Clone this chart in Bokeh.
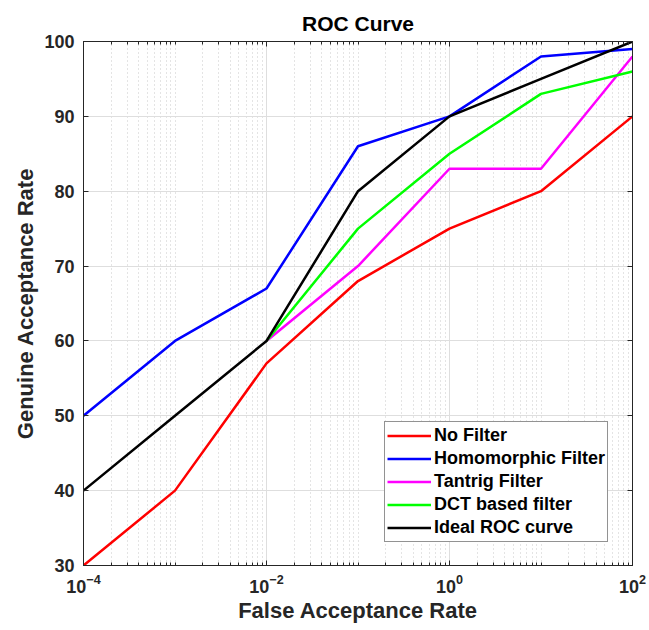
from bokeh.plotting import figure
from bokeh.models import FixedTicker, LogAxis, LinearAxis, CustomJSTickFormatter, Legend, LegendItem, Range1d
from bokeh.embed import file_html
from bokeh.resources import INLINE

far = [1e-4, 1e-3, 1e-2, 1e-1, 1e0, 1e1, 1e2]
no_filter = [30, 40, 57, 68, 75, 80, 90]
homomorphic = [50, 60, 67, 86, 90, 98, 99]
far_sub = [1e-2, 1e-1, 1e0, 1e1, 1e2]
tantrig = [60, 70, 83, 83, 98]
dct = [60, 75, 85, 93, 96]
ideal = [40, 50, 60, 80, 90, 95, 100]

x_ticks = [1e-4, 1e-2, 1e0, 1e2]
y_ticks = [30, 40, 50, 60, 70, 80, 90, 100]

minor = []
for e in range(-4, 2):
    for m in range(2, 10):
        minor.append(m * 10.0 ** e)
for e in [-3, -1, 1]:
    minor.append(10.0 ** e)
minor = sorted(minor)

FONT = "Liberation Sans"
TXT = "#262626"

p = figure(width=649, height=630, x_axis_type="log",
           x_range=Range1d(1e-4, 1e2), y_range=Range1d(30, 100),
           output_backend="svg", toolbar_location=None,
           min_border_left=83, min_border_right=17, min_border_top=41, min_border_bottom=65,
           title="ROC Curve")
p.title.align = "center"
p.title.text_font = FONT
p.title.text_font_size = "21px"
p.title.text_font_style = "bold"
p.title.text_color = "black"
p.title.offset = 0
p.title.standoff = 14

p.outline_line_color = TXT
p.outline_line_width = 1
p.background_fill_color = "white"
p.border_fill_color = "white"

xt = FixedTicker(ticks=x_ticks, minor_ticks=minor)
yt = FixedTicker(ticks=y_ticks, minor_ticks=[])

for ax in [p.xaxis[0], p.yaxis[0]]:
    ax.major_tick_in = 5
    ax.major_tick_out = 0
    ax.minor_tick_in = 3
    ax.minor_tick_out = 0
    ax.axis_line_color = TXT
    ax.major_tick_line_color = TXT
    ax.minor_tick_line_color = TXT
    ax.major_label_text_font = FONT
    ax.major_label_text_font_style = "bold"
    ax.major_label_text_color = TXT
    ax.axis_label_text_font = FONT
    ax.axis_label_text_font_style = "bold"
    ax.axis_label_text_font_size = "22px"
    ax.axis_label_text_color = TXT

p.xaxis[0].ticker = xt
p.yaxis[0].ticker = yt
p.xaxis[0].major_label_text_font_size = "18px"
p.yaxis[0].major_label_text_font_size = "18px"
p.xaxis[0].axis_label = "False Acceptance Rate"
p.yaxis[0].axis_label = "Genuine Acceptance Rate"
p.xaxis[0].major_label_standoff = 8
p.yaxis[0].major_label_standoff = 9
p.xaxis[0].axis_label_standoff = 2
p.yaxis[0].axis_label_standoff = 3

blank = CustomJSTickFormatter(code="return ''")
top = LogAxis(ticker=xt, formatter=blank, major_tick_in=5, major_tick_out=0,
              minor_tick_in=3, minor_tick_out=0, axis_line_color=TXT,
              major_tick_line_color=TXT, minor_tick_line_color=TXT,
              major_label_standoff=0)
right = LinearAxis(ticker=yt, formatter=blank, major_tick_in=5, major_tick_out=0,
                   minor_tick_line_color=None, axis_line_color=TXT,
                   major_tick_line_color=TXT, major_label_standoff=0)
p.add_layout(top, "above")
p.add_layout(right, "right")

p.xgrid.ticker = xt
p.ygrid.ticker = yt
p.xgrid.grid_line_color = "#dedede"
p.ygrid.grid_line_color = "#dedede"
p.xgrid.minor_grid_line_color = "#c8c8c8"
p.xgrid.minor_grid_line_dash = "1 3"
p.ygrid.minor_grid_line_color = None

lw = 2.5
r1 = p.line(far, no_filter, line_color="#ff0000", line_width=lw)
r2 = p.line(far, homomorphic, line_color="#0000ff", line_width=lw)
r3 = p.line(far_sub, tantrig, line_color="#ff00ff", line_width=lw)
r4 = p.line(far_sub, dct, line_color="#00ff00", line_width=lw)
r5 = p.line(far, ideal, line_color="#000000", line_width=lw)

legend = Legend(items=[
    LegendItem(label="No Filter", renderers=[r1]),
    LegendItem(label="Homomorphic Filter", renderers=[r2]),
    LegendItem(label="Tantrig Filter", renderers=[r3]),
    LegendItem(label="DCT based filter", renderers=[r4]),
    LegendItem(label="Ideal ROC curve", renderers=[r5]),
], location=(301, 23))
legend.label_text_font = FONT
legend.label_text_font_style = "bold"
legend.label_text_font_size = "18px"
legend.label_text_color = "black"
legend.glyph_width = 44
legend.glyph_height = 23
legend.label_height = 23
legend.label_standoff = 3
legend.spacing = 0
legend.padding = 2
legend.margin = 0
legend.border_line_color = TXT
legend.border_line_width = 1
legend.background_fill_color = "white"
legend.background_fill_alpha = 1
p.add_layout(legend, "center")

open("out.html", "w").write(file_html(p, INLINE))
